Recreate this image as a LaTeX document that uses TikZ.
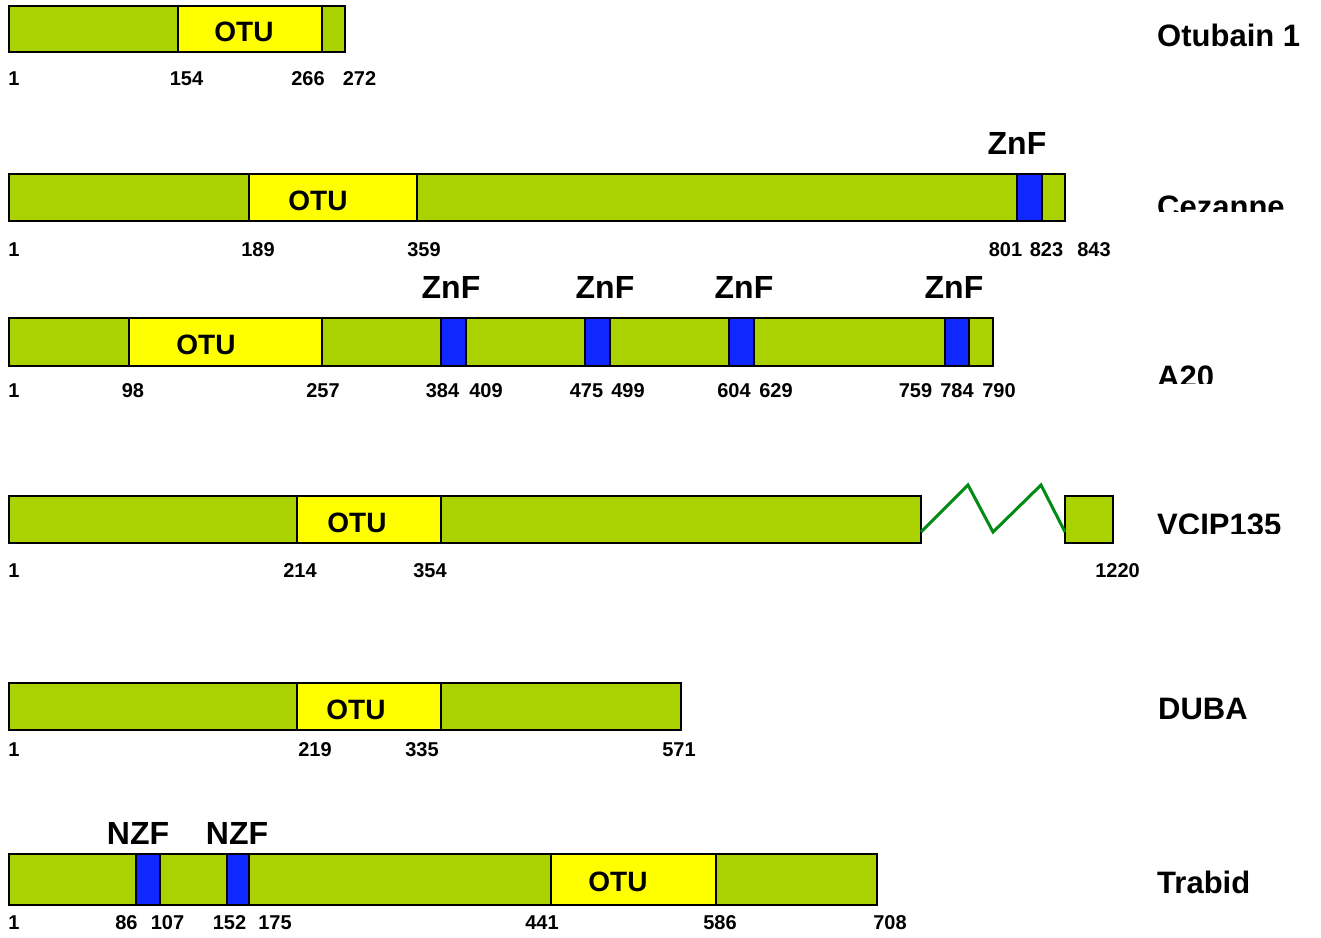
\documentclass[tikz,border=0pt]{standalone}
\usepackage{fontspec}
\setmainfont{Liberation Sans}
\definecolor{grn}{RGB}{170,210,0}
\definecolor{yel}{RGB}{255,255,0}
\definecolor{blu}{RGB}{15,40,255}
\definecolor{zig}{RGB}{0,140,20}
\begin{document}
\begin{tikzpicture}[x=1pt,y=-1pt,
  bar/.style={draw=black,line width=1.8pt,fill=grn},
  otubox/.style={draw=black,line width=1.8pt,fill=yel},
  znbox/.style={draw=black,line width=1.8pt,fill=blu},
  num/.style={font=\fontsize{20}{20}\selectfont\bfseries,inner sep=0pt,anchor=center},
  otulbl/.style={font=\fontsize{28}{28}\selectfont\bfseries,inner sep=0pt,anchor=center},
  znlbl/.style={font=\fontsize{32}{32}\selectfont\bfseries,inner sep=0pt,anchor=center},
  protname/.style={font=\fontsize{31}{31}\selectfont\bfseries,inner sep=0pt,anchor=base west},
  zigline/.style={draw=zig,line width=3pt,line join=miter}]
\useasboundingbox (0,0) rectangle (1321,937);
\fill[white] (0,0) rectangle (1321,937);

% ---------- Otubain 1 ----------
\draw[bar] (9,6) rectangle (345,52);
\draw[otubox] (178,6) rectangle (322,52);
\draw[line width=1.8pt] (9,6) rectangle (345,52);
\node[otulbl] (o1otu) at (244,32) {OTU};
\node[num] (o1a) at (14,78.5) {1};
\node[num] (o1b) at (186.5,78.5) {154};
\node[num] (o1c) at (308,78.5) {266};
\node[num] (o1d) at (359.5,78.5) {272};
\node[protname] (o1name) at (1157,46) {Otubain 1};

% ---------- Cezanne ----------
\draw[bar] (9,174) rectangle (1065,221);
\draw[otubox] (249,174) rectangle (417,221);
\draw[znbox] (1017,174) rectangle (1042,221);
\draw[line width=1.8pt] (9,174) rectangle (1065,221);
\node[otulbl] (czotu) at (318,201) {OTU};
\node[znlbl] (czzn) at (1017,143.5) {ZnF};
\node[num] (cza) at (14,249.5) {1};
\node[num] (czb) at (258,249.5) {189};
\node[num] (czc) at (424,249.5) {359};
\node[num] (czd) at (1005.5,249.5) {801};
\node[num] (cze) at (1046.5,249.5) {823};
\node[num] (czf) at (1094,249.5) {843};
\begin{scope}
\clip (1140,150) rectangle (1321,211);
\node[protname] (czname) at (1157,217) {Cezanne};
\end{scope}

% ---------- A20 ----------
\draw[bar] (9,318) rectangle (993,366);
\draw[otubox] (129,318) rectangle (322,366);
\draw[znbox] (441,318) rectangle (466,366);
\draw[znbox] (585,318) rectangle (610,366);
\draw[znbox] (729,318) rectangle (754,366);
\draw[znbox] (945,318) rectangle (969,366);
\draw[line width=1.8pt] (9,318) rectangle (993,366);
\node[otulbl] (aotu) at (206,345) {OTU};
\node[znlbl] (azn1) at (451,287.5) {ZnF};
\node[znlbl] (azn2) at (605,287.5) {ZnF};
\node[znlbl] (azn3) at (744,287.5) {ZnF};
\node[znlbl] (azn4) at (954,287.5) {ZnF};
\node[num] (aa) at (14,390.5) {1};
\node[num] (ab) at (133,390.5) {98};
\node[num] (ac) at (323,390.5) {257};
\node[num] (ad) at (442.5,390.5) {384};
\node[num] (ae) at (486,390.5) {409};
\node[num] (af) at (586.5,390.5) {475};
\node[num] (ag) at (628,390.5) {499};
\node[num] (ah) at (734,390.5) {604};
\node[num] (ai) at (776,390.5) {629};
\node[num] (aj) at (915.5,390.5) {759};
\node[num] (ak) at (957,390.5) {784};
\node[num] (al) at (999,390.5) {790};
\begin{scope}
\clip (1140,340) rectangle (1321,383);
\node[protname] (aname) at (1157,387) {A20};
\end{scope}

% ---------- VCIP135 ----------
\draw[bar] (9,496) rectangle (921,543);
\draw[otubox] (297,496) rectangle (441,543);
\draw[line width=1.8pt] (9,496) rectangle (921,543);
\draw[bar] (1065,496) rectangle (1113,543);
\coordinate (zA) at (921,532);
\coordinate (zB) at (968,485);
\coordinate (zC) at (993,532);
\coordinate (zD) at (1041,485);
\coordinate (zE) at (1065,532);
\draw[zigline] (zA) -- (zB) -- (zC) -- (zD) -- (zE);
\node[otulbl] (votu) at (357,522.5) {OTU};
\node[num] (va) at (14,571) {1};
\node[num] (vb) at (300,571) {214};
\node[num] (vc) at (430,571) {354};
\node[num] (vd) at (1117.5,571) {1220};
\begin{scope}
\clip (1140,490) rectangle (1321,533);
\node[protname] (vname) at (1157,535) {VCIP135};
\end{scope}

% ---------- DUBA ----------
\draw[bar] (9,683) rectangle (681,730);
\draw[otubox] (297,683) rectangle (441,730);
\draw[line width=1.8pt] (9,683) rectangle (681,730);
\node[otulbl] (dotu) at (356,710) {OTU};
\node[num] (da) at (14,750) {1};
\node[num] (db) at (315,750) {219};
\node[num] (dc) at (422,750) {335};
\node[num] (dd) at (679,750) {571};
\node[protname] (dname) at (1158,719) {DUBA};

% ---------- Trabid ----------
\draw[bar] (9,854) rectangle (877,905);
\draw[znbox] (136,854) rectangle (160,905);
\draw[znbox] (227,854) rectangle (249,905);
\draw[otubox] (551,854) rectangle (716,905);
\draw[line width=1.8pt] (9,854) rectangle (877,905);
\node[otulbl] (totu) at (618,882) {OTU};
\node[znlbl] (tnz1) at (138,833) {NZF};
\node[znlbl] (tnz2) at (237,833) {NZF};
\node[num] (ta) at (14,922.5) {1};
\node[num] (tb) at (126.5,922.5) {86};
\node[num] (tc) at (167.5,922.5) {107};
\node[num] (td) at (229.5,922.5) {152};
\node[num] (te) at (275,922.5) {175};
\node[num] (tf) at (542,922.5) {441};
\node[num] (tg) at (720,922.5) {586};
\node[num] (th) at (890,922.5) {708};
\node[protname] (tname) at (1157,893) {Trabid};
\end{tikzpicture}
\end{document}
